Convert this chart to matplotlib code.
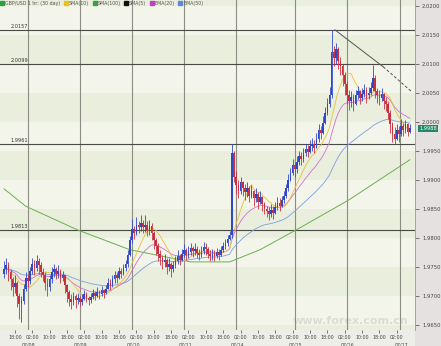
import numpy as np
import matplotlib
matplotlib.use("Agg")
import matplotlib.pyplot as plt
from matplotlib.lines import Line2D
import matplotlib.transforms as mtransforms

# ---------------- data (hourly GBP/USD bars) ----------------
close = [
    1.9745, 1.9752, 1.9740, 1.9728, 1.9715, 1.9722, 1.9700, 1.9685,
    1.9690, 1.9712, 1.9730, 1.9725, 1.9742, 1.9755, 1.9748, 1.9760,
    1.9752, 1.9740, 1.9735, 1.9722, 1.9715, 1.9728, 1.9740, 1.9745,
    1.9738, 1.9742, 1.9730, 1.9735, 1.9718, 1.9706, 1.9694, 1.9689,
    1.9699, 1.9692, 1.9696, 1.9689, 1.9694, 1.9702, 1.9696, 1.9692,
    1.9698, 1.9704, 1.9700, 1.9706, 1.9702, 1.9709, 1.9704, 1.9712,
    1.9722, 1.9718, 1.9728, 1.9735, 1.9730, 1.9742, 1.9738, 1.9748,
    1.9755, 1.9770, 1.9795, 1.9815, 1.9808, 1.9822, 1.9818, 1.9825,
    1.9818, 1.9822, 1.9812, 1.9820, 1.9808, 1.9795, 1.9785, 1.9772,
    1.9765, 1.9758, 1.9762, 1.9750, 1.9755, 1.9745, 1.9752, 1.9760,
    1.9768, 1.9762, 1.9772, 1.9778, 1.9770, 1.9775, 1.9782, 1.9776,
    1.9780, 1.9774, 1.9770, 1.9776, 1.9784, 1.9780, 1.9772, 1.9768,
    1.9772, 1.9768, 1.9775, 1.9770, 1.9778, 1.9785, 1.9790, 1.9798,
    1.9805, 1.9945, 1.9905, 1.9890, 1.9880, 1.9895, 1.9885, 1.9878,
    1.9885, 1.9872, 1.9880, 1.9868, 1.9875, 1.9862, 1.9870, 1.9858,
    1.9850, 1.9845, 1.9840, 1.9848, 1.9842, 1.9852, 1.9860, 1.9855,
    1.9865, 1.9872, 1.9885, 1.9900, 1.9912, 1.9925, 1.9918, 1.9930,
    1.9940, 1.9935, 1.9945, 1.9952, 1.9948, 1.9958, 1.9962, 1.9955,
    1.9970, 1.9985, 1.9980, 1.9998, 2.0015, 2.0030, 2.0045, 2.0120,
    2.0110, 2.0125, 2.0105, 2.0095, 2.0080, 2.0065, 2.0045, 2.0035,
    2.0042, 2.0030, 2.0045, 2.0052, 2.0040, 2.0048, 2.0055, 2.0045,
    2.0050, 2.0058, 2.0075, 2.0052, 2.0045, 2.0040, 2.0048, 2.0035,
    2.0030, 2.0015, 1.9995, 1.9978, 1.9970, 1.9985, 1.9978, 1.9992,
    1.9985, 1.9995, 1.9982, 1.9988,
]
high = [
    1.9760, 1.9765, 1.9758, 1.9745, 1.9732, 1.9735, 1.9725, 1.9705,
    1.9700, 1.9720, 1.9740, 1.9738, 1.9750, 1.9765, 1.9762, 1.9770,
    1.9765, 1.9758, 1.9748, 1.9740, 1.9730, 1.9735, 1.9750, 1.9755,
    1.9750, 1.9752, 1.9745, 1.9742, 1.9736, 1.9720, 1.9710, 1.9702,
    1.9706, 1.9702, 1.9704, 1.9700, 1.9702, 1.9709, 1.9706, 1.9700,
    1.9704, 1.9712, 1.9708, 1.9714, 1.9710, 1.9716, 1.9712, 1.9719,
    1.9730, 1.9728, 1.9735, 1.9742, 1.9740, 1.9750, 1.9748, 1.9755,
    1.9762, 1.9778, 1.9802, 1.9832, 1.9820, 1.9835, 1.9828, 1.9838,
    1.9830, 1.9838, 1.9828, 1.9830, 1.9825, 1.9812, 1.9800, 1.9790,
    1.9778, 1.9770, 1.9772, 1.9765, 1.9765, 1.9758, 1.9760, 1.9768,
    1.9778, 1.9772, 1.9780, 1.9788, 1.9782, 1.9785, 1.9790, 1.9786,
    1.9790, 1.9785, 1.9780, 1.9785, 1.9792, 1.9790, 1.9784, 1.9778,
    1.9780, 1.9778, 1.9782, 1.9780, 1.9786, 1.9792, 1.9798, 1.9805,
    1.9812, 1.9962, 1.9950, 1.9915, 1.9900, 1.9905, 1.9898, 1.9892,
    1.9895, 1.9888, 1.9890, 1.9882, 1.9885, 1.9878, 1.9880, 1.9872,
    1.9862, 1.9855, 1.9852, 1.9858, 1.9855, 1.9862, 1.9870, 1.9868,
    1.9872, 1.9880, 1.9892, 1.9910, 1.9920, 1.9935, 1.9930, 1.9940,
    1.9950, 1.9948, 1.9955, 1.9962, 1.9960, 1.9968, 1.9972, 1.9968,
    1.9980, 1.9995, 1.9992, 2.0010, 2.0025, 2.0040, 2.0060, 2.0158,
    2.0130, 2.0135, 2.0128, 2.0112, 2.0100, 2.0085, 2.0070, 2.0055,
    2.0052, 2.0048, 2.0055, 2.0062, 2.0055, 2.0058, 2.0065, 2.0060,
    2.0060, 2.0068, 2.0098, 2.0080, 2.0058, 2.0055, 2.0058, 2.0050,
    2.0042, 2.0035, 2.0020, 2.0000, 1.9990, 1.9995, 1.9992, 2.0005,
    1.9998, 2.0002, 1.9998, 1.9995,
]
low = [
    1.9730, 1.9738, 1.9725, 1.9710, 1.9700, 1.9705, 1.9680, 1.9660,
    1.9655, 1.9685, 1.9708, 1.9715, 1.9720, 1.9738, 1.9735, 1.9742,
    1.9738, 1.9732, 1.9725, 1.9710, 1.9700, 1.9708, 1.9722, 1.9732,
    1.9728, 1.9730, 1.9722, 1.9725, 1.9704, 1.9689, 1.9682, 1.9676,
    1.9684, 1.9679, 1.9686, 1.9682, 1.9684, 1.9692, 1.9689, 1.9684,
    1.9688, 1.9694, 1.9692, 1.9698, 1.9694, 1.9700, 1.9696, 1.9702,
    1.9712, 1.9710, 1.9715, 1.9722, 1.9722, 1.9728, 1.9730, 1.9735,
    1.9742, 1.9750, 1.9768, 1.9790, 1.9798, 1.9805, 1.9808, 1.9812,
    1.9808, 1.9810, 1.9802, 1.9805, 1.9795, 1.9780, 1.9770, 1.9760,
    1.9752, 1.9745, 1.9750, 1.9738, 1.9742, 1.9732, 1.9740, 1.9748,
    1.9755, 1.9752, 1.9760, 1.9766, 1.9762, 1.9765, 1.9770, 1.9766,
    1.9770, 1.9765, 1.9762, 1.9766, 1.9772, 1.9770, 1.9764, 1.9760,
    1.9762, 1.9760, 1.9765, 1.9762, 1.9768, 1.9775, 1.9780, 1.9786,
    1.9795, 1.9800, 1.9895, 1.9875, 1.9868, 1.9875, 1.9872, 1.9865,
    1.9870, 1.9862, 1.9868, 1.9855, 1.9862, 1.9850, 1.9858, 1.9845,
    1.9840, 1.9835, 1.9830, 1.9835, 1.9832, 1.9840, 1.9848, 1.9845,
    1.9852, 1.9860, 1.9868, 1.9880, 1.9898, 1.9908, 1.9905, 1.9912,
    1.9925, 1.9925, 1.9930, 1.9940, 1.9938, 1.9945, 1.9950, 1.9945,
    1.9955, 1.9965, 1.9970, 1.9978, 1.9995, 2.0012, 2.0025, 2.0040,
    2.0095, 2.0100, 2.0090, 2.0080, 2.0062, 2.0045, 2.0030, 2.0020,
    2.0025, 2.0018, 2.0028, 2.0038, 2.0030, 2.0035, 2.0042, 2.0032,
    2.0038, 2.0045, 2.0052, 2.0040, 2.0032, 2.0028, 2.0035, 2.0022,
    2.0018, 2.0005, 1.9980, 1.9965, 1.9962, 1.9968, 1.9965, 1.9975,
    1.9975, 1.9980, 1.9975, 1.9980,
]
first_open = 1.9738

# SMA(100) (bar index, value)
sma100_idx = [0, 10, 34, 58, 86, 104, 118, 136, 159, 187]
sma100_val = [1.9884, 1.9854, 1.9813, 1.9779, 1.9758, 1.9758, 1.9779, 1.9816, 1.9865, 1.9934]

# Support / resistance levels
levels = [2.0157, 2.0099, 1.9961, 1.9813]
level_labels = ["2.0157", "2.0099", "1.9961", "1.9813"]

# Trend line (bar index, price): solid part, then dashed projection
trend_idx = [152.5, 174.7, 188.0]
trend_val = [2.0158, 2.00945, 2.0051]

# Axis labels
time_tick_idx = [5, 13, 21, 29, 37, 45, 53, 61, 69, 77, 85, 93, 101,
                 109, 117, 125, 133, 141, 149, 157, 165, 173, 181]
time_tick_lab = ["18:00", "02:00", "10:00"] * 7 + ["18:00", "02:00"]
day_idx = [11, 35, 59, 83, 107, 134, 158, 182.5]
day_lab = ["07/08", "07/09", "07/10", "07/11", "07/14", "07/15", "07/16", "07/17"]
ytick_vals = [2.0200, 2.0150, 2.0100, 2.0050, 2.0000, 1.9950, 1.9900,
              1.9850, 1.9800, 1.9750, 1.9700, 1.9650]
last_price = 1.9988
legend_labels = ["GBP/USD 1 hr: (30 day)", "SMA(10)", "SMA(100)", "SMA(5)", "EMA(20)", "EMA(50)"]
legend_colors = ["#2e9e3e", "#e8c020", "#3aa040", "#111111", "#c040c0", "#5a8ad8"]
watermark = "www.forex.com.cn"

# ---------------- derived ----------------
c = np.array(close)
h = np.array(high)
l = np.array(low)
o = np.concatenate([[first_open], c[:-1]])
n = len(c)
x = np.arange(n)


def ema(v, span):
    a = 2.0 / (span + 1)
    out = np.empty_like(v)
    out[0] = v[0]
    for k in range(1, len(v)):
        out[k] = a * v[k] + (1 - a) * out[k - 1]
    return out


def sma(v, w):
    out = np.full(len(v), np.nan)
    for k in range(len(v)):
        s = max(0, k - w + 1)
        out[k] = v[s:k + 1].mean()
    return out


# ---------------- figure ----------------
W, H = 441, 346
fig = plt.figure(figsize=(W / 100, H / 100), dpi=100)
fig.patch.set_facecolor("#eeeee8")

ax_right_px, ax_bottom_px = 415, 330
# right-hand grey price strip
bg = fig.add_axes([ax_right_px / W, 0, 1 - ax_right_px / W, 1])
bg.set_facecolor("#e6e1e1")
bg.set_xticks([]); bg.set_yticks([])
for s in bg.spines.values():
    s.set_visible(False)
bg.set_zorder(-5)

ax = fig.add_axes([0, (H - ax_bottom_px) / H, ax_right_px / W, ax_bottom_px / H])
ax.set_zorder(1)

ymax, ymin = 2.02095, 1.96406
ax.set_ylim(ymin, ymax)
ax.set_xlim(-1.84, 189.4)
ax.set_facecolor("#f3f5ea")

# background bands
band_edges = np.arange(1.9600, 2.0300, 0.005)
for k, b in enumerate(band_edges):
    if k % 2 == 0:
        ax.axhspan(b, b + 0.005, color="#e9efdc", zorder=0, lw=0)

# day separators
for d in day_idx:
    ax.axvline(d, color="#8c8c84", lw=0.8, zorder=1)

# levels
for v, t in zip(levels, level_labels):
    ax.axhline(v, color="#4a4a44", lw=0.8, zorder=1)
    ax.text(3, v + 0.0002, t, fontsize=3.6, color="#333333", va="bottom", ha="left", zorder=6)

# faint watermark (inside plot, lower right, clear of the axis labels)
ax.text(0.985, 0.012, watermark, transform=ax.transAxes, fontsize=8, color="#dcdcd4",
        ha="right", va="bottom", fontweight="bold", zorder=0.5)

# moving averages
ax.plot(sma100_idx, sma100_val, color="#6cb050", lw=0.7, zorder=2)
ax.plot(x, ema(c, 50), color="#7c9ee0", lw=0.6, zorder=2)
ax.plot(x, ema(c, 20), color="#d070d0", lw=0.6, zorder=2)
ax.plot(x, sma(c, 10), color="#e8c040", lw=0.6, zorder=2)

# candles
up = c >= o
col = np.where(up, "#3048c8", "#c83040")
ax.vlines(x, l, h, colors=col, lw=0.6, zorder=3)
body_lo = np.minimum(o, c)
body_h = np.maximum(np.abs(c - o), 0.00006)
ax.bar(x, body_h, bottom=body_lo, width=0.75, color=col, edgecolor="none", zorder=4)

# trend line
ax.plot(trend_idx[:2], trend_val[:2], color="#555555", lw=0.7, zorder=5)
ax.plot(trend_idx[1:], trend_val[1:], color="#555555", lw=0.7, ls=(0, (3, 2)),
        zorder=5, clip_on=False)

# y axis on right
ax.yaxis.tick_right()
ax.set_yticks(ytick_vals)
ax.set_yticklabels([f"{v:.4f}" for v in ytick_vals])
ax.tick_params(axis="y", labelsize=3.8, length=3, width=0.5, pad=2, colors="#444444")

# x axis
ax.set_xticks(time_tick_idx)
ax.set_xticklabels(time_tick_lab)
ax.tick_params(axis="x", labelsize=3.4, length=2, width=0.5, pad=1.5, colors="#444444")
trans = mtransforms.blended_transform_factory(ax.transData, ax.transAxes)
for d, t in zip(day_idx, day_lab):
    ax.text(d + 0.5, -0.037, t, transform=trans, fontsize=3.4, color="#444444",
            ha="center", va="top", clip_on=False)

for s in ["top", "left", "bottom"]:
    ax.spines[s].set_visible(False)
ax.spines["right"].set_color("#9a9a9a")
ax.spines["right"].set_linewidth(0.6)

# last price box
ax.text(1.01, last_price, f"{last_price:.4f}",
        transform=mtransforms.blended_transform_factory(ax.transAxes, ax.transData),
        fontsize=3.6, color="white", ha="left", va="center", clip_on=False, zorder=10,
        bbox=dict(boxstyle="square,pad=0.25", fc="#1f8a6a", ec="none"))

# legend
handles = [Line2D([], [], marker="s", ls="none", markersize=2.5, color=cc) for cc in legend_colors]
leg = ax.legend(handles, legend_labels, loc="upper left", ncol=6, fontsize=3.4, frameon=False,
                handlelength=0.6, handletextpad=0.3, columnspacing=0.9,
                borderaxespad=0.1, borderpad=0.1)
for t in leg.get_texts():
    t.set_color("#555555")

fig.savefig("out.png", dpi=100, facecolor=fig.get_facecolor())
